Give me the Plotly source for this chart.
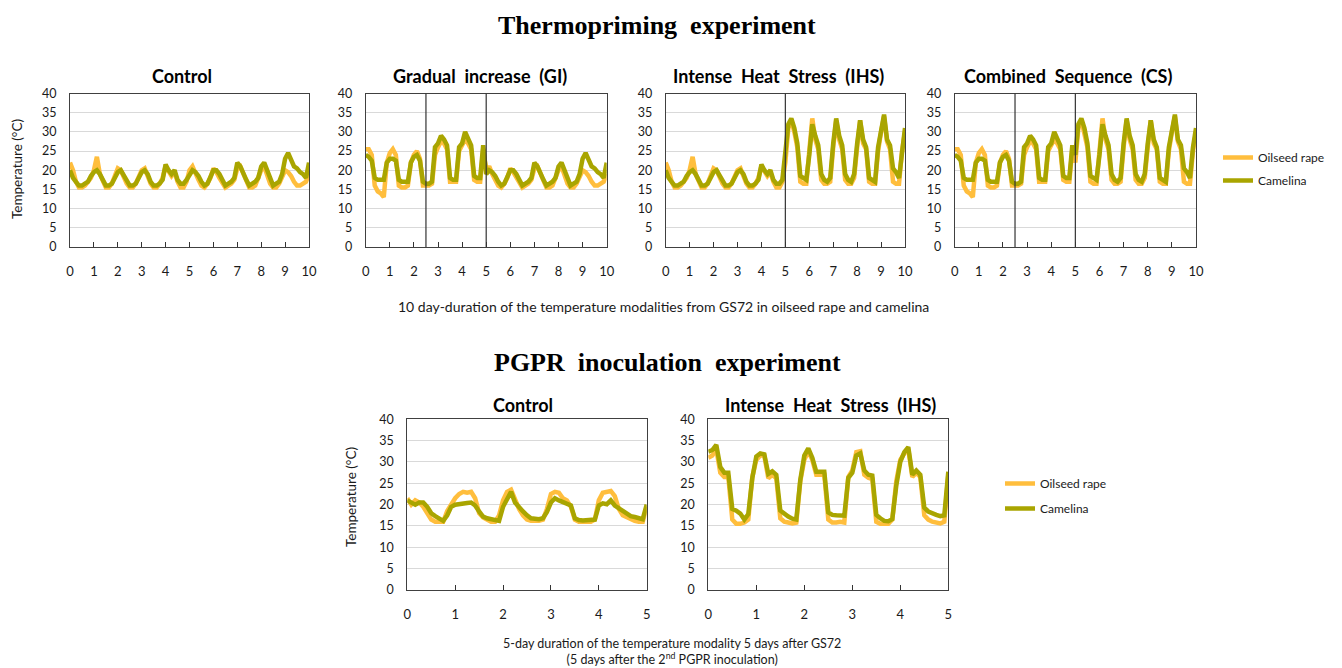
import numpy as np
import plotly.graph_objects as go

# ---------------- data (°C) ----------------
# Top experiment: 3-hourly readings (8 per day) over 10 days.
# Segments are reused exactly as in the picture: Control & IHS share days 0-5,
# Control & GI share days 5-10, GI & CS share days 0-5, IHS & CS share days 5-10.
ctrl_a_osr = [22, 20, 17, 15.5, 15.5, 16, 17, 18,
              20, 23.5, 19, 17, 15.5, 15.5, 16.5, 18.5,
              20.5, 20, 18, 16.5, 15.5, 15.5, 16.5, 18,
              20, 20.5, 18.5, 16.5, 15.5, 15.5, 16.5, 18,
              21, 19.5, 18.5, 19.5, 17, 15.5, 15.5, 17]
ctrl_a_cam = [20, 18, 17, 16, 16, 16.5, 17, 18.5,
              19.5, 20, 19, 17.5, 16, 16, 16.5, 18,
              19.5, 20, 18.5, 17, 16, 16, 16.5, 18,
              19.5, 20, 19, 17, 16, 16, 16.5, 17.5,
              21.5, 20, 19, 20, 17.5, 16.5, 16.5, 17.5]
ctrl_b_osr = [20, 21, 19, 17.5, 16, 15.5, 16.5, 18,
              20.5, 19.5, 18, 16.5, 15.5, 16, 16.5, 17.5,
              20.5, 21, 19, 17, 15.5, 15.5, 16, 18,
              20, 21, 18.5, 16.5, 15.5, 15.5, 16.5, 18.5,
              20, 19.5, 18.5, 17, 16, 16, 16.5, 17,
              19]
ctrl_b_cam = [19, 20, 19.5, 18.5, 17, 16, 16.5, 18,
              20, 20, 19, 17.5, 16, 16.5, 17, 18,
              22, 21, 19, 17.5, 16, 16.5, 17, 18,
              21, 22, 20, 17.5, 16, 16.5, 17, 19,
              23, 24.5, 23, 21, 20.5, 19.5, 19, 18,
              22]
gi_a_osr = [25.5, 25.5, 24, 16, 14.5, 14, 13, 22,
            24.5, 25.5, 24, 16, 15.5, 15.5, 16, 22,
            24, 25, 23, 16, 16, 16, 16.5, 24,
            26, 27.5, 27, 25.5, 17, 17, 17, 25,
            26.5, 28, 27, 25.5, 17.5, 17, 17, 25.5]
gi_a_cam = [24, 23.5, 22.5, 18, 17.5, 17.5, 17.5, 22,
            23, 23, 22.5, 17.5, 17, 17, 17, 22,
            23.5, 24, 22.5, 17, 16.5, 16.5, 17, 26,
            27, 29, 28, 26.5, 18, 17.5, 17.5, 26,
            27, 30, 28, 26.5, 18.5, 18, 18, 26.5]
ihs_b_osr = [22, 31, 33, 30, 26, 17, 16.5, 16.5,
             24, 33.5, 28, 25.5, 17.5, 16.5, 16.5, 17,
             26, 33, 28, 25.5, 17.5, 16.5, 16.5, 18,
             26, 33, 27, 25.5, 17, 16.5, 16.5, 25,
             30, 34, 27.5, 25.5, 17, 16.5, 16.5, 25,
             30]
ihs_b_cam = [24, 32, 33.5, 31, 27, 18.5, 18, 17.5,
             24, 32, 29, 26.5, 19, 17.5, 17, 18,
             27, 33.5, 29, 26.5, 19, 17.5, 17, 19,
             27, 33, 28, 26, 18, 17.5, 17, 26,
             31, 34.5, 28, 26.5, 20.5, 19.5, 18, 26,
             31]

# Bottom experiment: 2-hourly readings (12 per day) over 5 days.
pgpr_ctrl_osr = [21.5, 20, 21, 20.5, 19.5, 18, 16.5, 16, 16, 16, 18.5, 20,
                 21.5, 22.5, 23, 22.8, 23, 21.5, 18, 17, 16.5, 16, 16, 17.5,
                 21, 23, 23.5, 21, 19, 17.5, 16.5, 16.2, 16.2, 16.2, 16.5, 19,
                 22.5, 23, 22.8, 21.5, 21, 19.5, 16.5, 16, 16, 16, 16, 16.5,
                 21, 22.8, 23, 23.2, 22, 19, 17.5, 17, 16.5, 16.2, 16, 16,
                 19.5]
pgpr_ctrl_cam = [21, 20.5, 20, 20.5, 20.5, 19.5, 18, 17.3, 16.8, 16.2, 17.5, 19.5,
                 20, 20.2, 20.3, 20.4, 20.5, 19.8, 18.4, 17.2, 16.8, 16.6, 16.5, 16.2,
                 19.5, 21.5, 23, 20.5, 19.3, 18.4, 17.5, 16.8, 16.7, 16.6, 16.8, 18.3,
                 20.5, 21.5, 21, 20.6, 20.3, 19.8, 16.8, 16.4, 16.3, 16.4, 16.3, 16.5,
                 19.8, 20.3, 20.1, 21, 19.8, 19.2, 18.3, 17.8, 17.3, 17.1, 16.8, 16.6,
                 20]
pgpr_ihs_osr = [31, 31.5, 33, 27.5, 26.5, 26.5, 16.5, 15.5, 15.5, 15.8, 16.5, 26.5,
                30.5, 31.5, 31.5, 26.2, 27, 26.2, 16.8, 16, 15.8, 15.6, 15.8, 25.5,
                30.5, 32.5, 30.5, 27, 27, 27, 16.5, 15.8, 15.8, 16, 15.8, 26.5,
                28, 32.3, 32.5, 27, 26.3, 26, 16, 15.5, 15.5, 15.5, 16.5, 25.5,
                30.5, 32, 33, 26.5, 27.5, 26.5, 17.5, 16.5, 16, 15.8, 15.6, 16,
                27]
pgpr_ihs_cam = [32.4, 32.8, 34, 28.8, 27.5, 27.5, 19, 18.6, 17.9, 16.5, 17.8, 26.2,
                31.3, 32, 31.8, 27.2, 27.8, 27, 18.6, 17.8, 17.2, 16.7, 16.5, 25.8,
                31.5, 33.2, 31, 27.7, 27.7, 27.7, 18.2, 17.6, 17.5, 17.4, 17.4, 26.3,
                27.5, 31.5, 32, 28, 27, 26.8, 17.6, 16.8, 16.2, 16.1, 16.6, 24.5,
                30, 32.3, 33.5, 27, 28, 27, 19.3, 18.4, 17.9, 17.6, 17.3, 17.5,
                27.7]

top_titles = ["Control", "Gradual&nbsp; increase&nbsp; (GI)",
              "Intense&nbsp; Heat&nbsp; Stress&nbsp; (IHS)",
              "Combined&nbsp; Sequence&nbsp; (CS)"]
top_osr = [ctrl_a_osr + ctrl_b_osr, gi_a_osr + ctrl_b_osr, ctrl_a_osr + ihs_b_osr, gi_a_osr + ihs_b_osr]
top_cam = [ctrl_a_cam + ctrl_b_cam, gi_a_cam + ctrl_b_cam, ctrl_a_cam + ihs_b_cam, gi_a_cam + ihs_b_cam]
top_phase_bounds = [[], [2.5, 5], [5], [2.5, 5]]
top_days = list(range(0, 11))

bot_titles = ["Control", "Intense&nbsp; Heat&nbsp; Stress&nbsp; (IHS)"]
bot_osr = [pgpr_ctrl_osr, pgpr_ihs_osr]
bot_cam = [pgpr_ctrl_cam, pgpr_ihs_cam]
bot_days = list(range(0, 6))

series_names = ["Oilseed rape", "Camelina"]
temp_ticks = list(range(0, 41, 5))

# ---------------- style ----------------
W, H = 1342, 668
OSR_C = "#FFBE3D"
CAM_C = "#A9A500"
FONT = "Lato"
TXT = "#1a1a1a"

def fx(p):
    return p / W

def fy(p):
    return 1 - p / H

top_boxes = [(70, 309), (365.7, 606.7), (665.7, 905), (954.7, 1196)]
top_ypx = (93.5, 247)
top_title_x = [182, 480, 778, 1068]
bot_boxes = [(407.3, 646.7), (708.3, 948.3)]
bot_ypx = (419.3, 590)
bot_title_x = [523, 830]

fig = go.Figure()
layout = dict(width=W, height=H,
              margin=dict(l=0, r=0, t=0, b=0, pad=0, autoexpand=False),
              paper_bgcolor="white", plot_bgcolor="white",
              font=dict(family=FONT, color=TXT), autosize=False)
shapes, annotations = [], []

def note(text, xp, yp, size, angle=0, family=FONT, color=TXT):
    annotations.append(dict(text=text, x=fx(xp), y=fy(yp), xref="paper", yref="paper",
                            showarrow=False, xanchor="center", yanchor="middle",
                            textangle=angle, font=dict(size=size, family=family, color=color)))

def add_axes(idx, box, ypx, days, title, title_x, title_y, show_legend, legend_name,
             osr, cam, spd, bounds, lw):
    xn = "x" if idx == 1 else f"x{idx}"
    yn = "y" if idx == 1 else f"y{idx}"
    t = np.arange(len(osr)) / spd
    fig.add_trace(go.Scatter(x=t, y=osr, xaxis=xn, yaxis=yn, mode="lines",
                             line=dict(color=OSR_C, width=lw), name=series_names[0],
                             showlegend=show_legend, legend=legend_name,
                             legendgroup=legend_name + "osr", hoverinfo="skip"))
    fig.add_trace(go.Scatter(x=t, y=cam, xaxis=xn, yaxis=yn, mode="lines",
                             line=dict(color=CAM_C, width=lw), name=series_names[1],
                             showlegend=show_legend, legend=legend_name,
                             legendgroup=legend_name + "cam", hoverinfo="skip"))
    sfx = "" if idx == 1 else str(idx)
    layout["xaxis" + sfx] = dict(domain=[fx(box[0]), fx(box[1])], anchor=yn,
                                 range=[days[0], days[-1]], tickvals=days,
                                 ticks="inside", ticklen=5, tickcolor="#333",
                                 showline=True, linecolor="#404040", linewidth=1, mirror=True,
                                 showgrid=False, zeroline=False, automargin=False,
                                 tickfont=dict(size=13, color=TXT), ticklabelstandoff=12)
    layout["yaxis" + sfx] = dict(domain=[fy(ypx[1]), fy(ypx[0])], anchor=xn,
                                 range=[0, 40], tickvals=temp_ticks,
                                 showgrid=True, gridcolor="#d9d9d9", gridwidth=1,
                                 showline=True, linecolor="#404040", linewidth=1, mirror=True,
                                 zeroline=False, ticks="", automargin=False,
                                 tickfont=dict(size=12.5, color=TXT), ticklabelstandoff=10)
    for b in bounds:
        shapes.append(dict(type="line", xref=xn, yref=yn + " domain", x0=b, x1=b, y0=0, y1=1,
                           line=dict(color="#333", width=1.2)))
    note("<b>" + title + "</b>", title_x, title_y, 18, color="#000")

for i in range(4):
    add_axes(i + 1, top_boxes[i], top_ypx, top_days, top_titles[i], top_title_x[i], 75.5,
             i == 3, "legend", top_osr[i], top_cam[i], 8, top_phase_bounds[i], 4.5)
for j in range(2):
    add_axes(5 + j, bot_boxes[j], bot_ypx, bot_days, bot_titles[j], bot_title_x[j], 405,
             j == 1, "legend2", bot_osr[j], bot_cam[j], 12, [], 4.5)

# main titles
note("<b>Thermopriming&nbsp; experiment</b>", 657, 25, 26, family="Liberation Serif", color="#000")
note("<b>PGPR&nbsp; inoculation&nbsp; experiment</b>", 667, 362, 26, family="Liberation Serif", color="#000")
# y-axis titles
note("Temperature (°C)", 17, 169, 13.5, angle=-90)
note("Temperature (°C)", 351, 497, 13.5, angle=-90)
# x-axis captions
note("10 day-duration of the temperature modalities from GS72 in oilseed rape and camelina",
     663, 306, 14)
note("5-day duration of the temperature modality 5 days after GS72<br>"
     "(5 days after the 2<sup>nd</sup> PGPR inoculation)", 672, 651, 12.5)

layout["shapes"] = shapes
layout["annotations"] = annotations
layout["legend"] = dict(x=fx(1218), y=fy(143), xanchor="left", yanchor="top",
                        font=dict(size=12, color=TXT), tracegroupgap=4,
                        bgcolor="rgba(0,0,0,0)")
layout["legend2"] = dict(x=fx(1000), y=fy(469), xanchor="left", yanchor="top",
                         font=dict(size=12, color=TXT), tracegroupgap=6,
                         bgcolor="rgba(0,0,0,0)")
fig.update_layout(**layout)

fig.write_html("out.html", config={"displayModeBar": False},
               post_script="document.body.style.margin='0px';")
